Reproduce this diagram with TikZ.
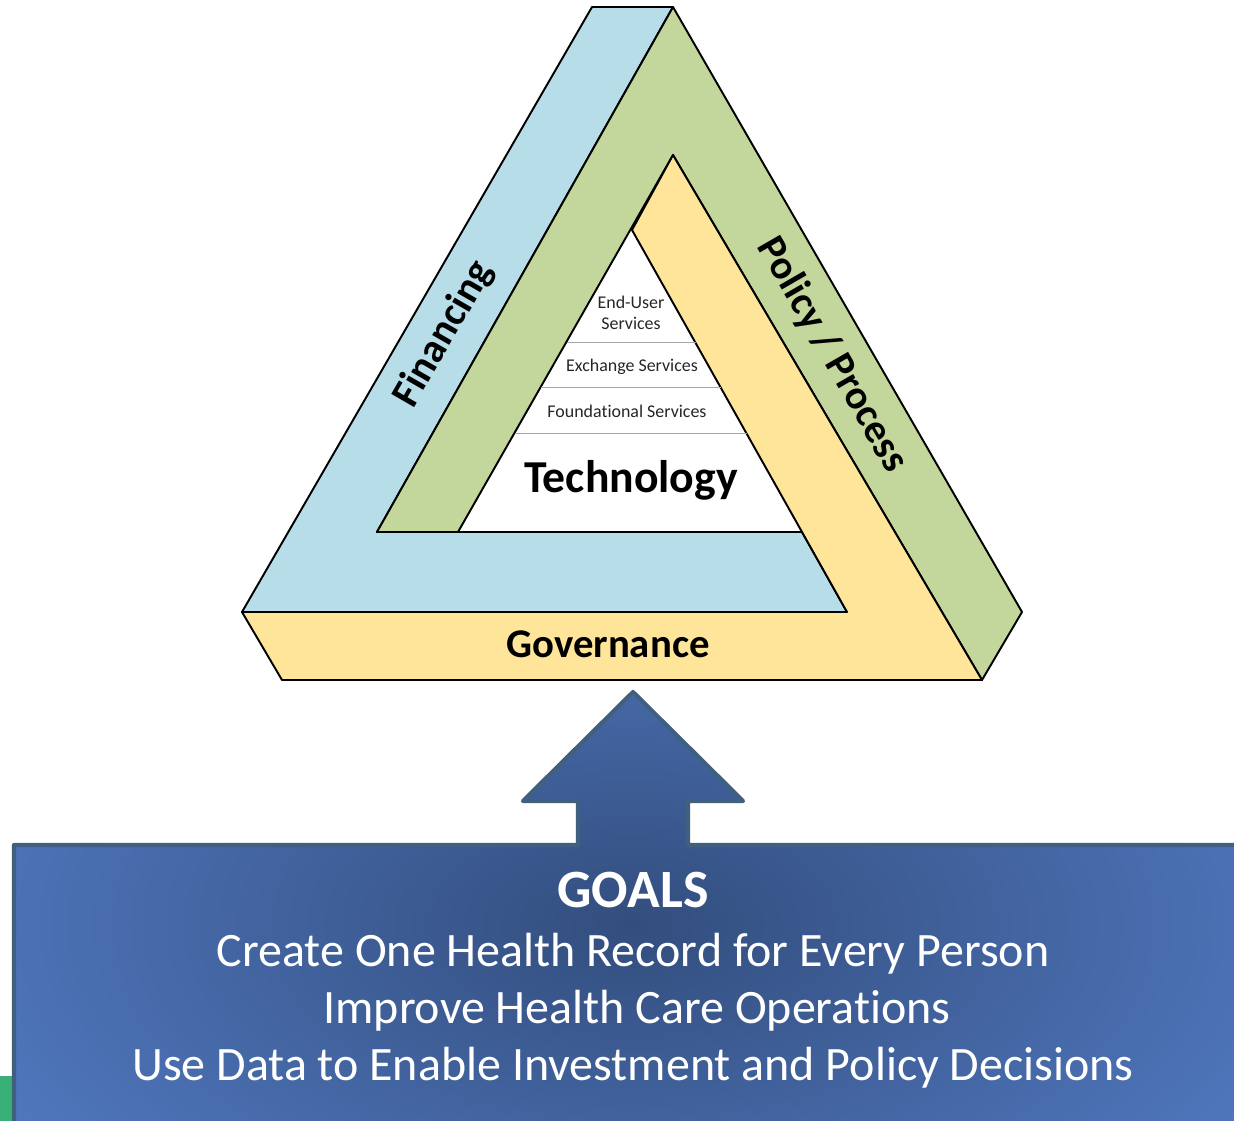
\documentclass[tikz,border=0pt]{standalone}
\usepackage{fontspec}
\setmainfont{Carlito}[Ligatures=NoCommon]
\usetikzlibrary{calc}

\definecolor{finblue}{RGB}{183,221,232}
\definecolor{polgreen}{RGB}{195,214,155}
\definecolor{govyellow}{RGB}{255,229,153}
\definecolor{goaldark}{RGB}{51,78,126}
\definecolor{goallight}{RGB}{86,128,204}
\definecolor{goalline}{RGB}{65,96,128}
\definecolor{stripgreen}{RGB}{56,176,120}
\definecolor{sepgray}{RGB}{166,166,166}

\tikzset{
  bar/.style = {draw=black, line width=1.1pt, line join=round},
  barlabel/.style = {font=\fontsize{23.2}{28}\selectfont\bfseries, inner sep=0pt},
  layer/.style = {font=\fontsize{10.2}{12.5}\selectfont, text=black!85, inner sep=0pt, anchor=base},
  goal/.style = {font=\fontsize{27.3}{33}\selectfont, text=white, inner sep=0pt, anchor=base}
}

\begin{document}
\begin{tikzpicture}[%
        x = 0.02cm, y = -0.02cm
    ]
      \useasboundingbox (0,0) rectangle (1234,1121);
      % corners of the triangle
      \coordinate (btop) at (592,7);
      \coordinate (apex) at (673,7);
      \coordinate (gright) at (1022,612);
      \coordinate (bright) at (982,680);
      \coordinate (bleft) at (282,680);
      \coordinate (left) at (242,612);
      \coordinate (bcorner) at (847,612);
      \coordinate (tright) at (802,532);
      \coordinate (tleft) at (458,532);
      \coordinate (gleft) at (377,532);
      \coordinate (iapex) at (673,155);
      \coordinate (tapex) at (632,230);
      % the three bars
      \draw[bar, fill=finblue] (btop) -- (apex) -- (gleft) -- (tright) -- (bcorner) -- (left) -- cycle;
      \draw[bar, fill=polgreen] (apex) -- (gright) -- (bright) -- (iapex) -- (tleft) -- (gleft) -- cycle;
      \draw[bar, fill=govyellow] (left) -- (bleft) -- (bright) -- (iapex) -- (tapex) -- (tright) -- (bcorner) -- cycle;
      % layers of the technology stack
      \draw[sepgray, line width=0.6pt] ($(tapex)!0.374!(tleft)$) -- ($(tapex)!0.374!(tright)$);
      \draw[sepgray, line width=0.6pt] ($(tapex)!0.523!(tleft)$) -- ($(tapex)!0.523!(tright)$);
      \draw[sepgray, line width=0.6pt] ($(tapex)!0.675!(tleft)$) -- ($(tapex)!0.675!(tright)$);
      \node[barlabel, rotate=60] (fin) at (444,334) {Financing};
      \node[barlabel, rotate=-60] (pol) at (832,355) {Policy / Process};
      \node[barlabel, anchor=base] (gov) at (608,657) {Governance};
      \node[layer, align=center] (enduser) at (631,330) {End-User\\Services};
      \node[layer] (exch) at (632,372) {Exchange Services};
      \node[layer] (found) at (627,418) {Foundational Services};
      \node[inner sep=0pt, anchor=base, font=\fontsize{26}{31}\selectfont\bfseries] (tech) at (631,493) {Technology};
      % goals box with arrow
      \fill[stripgreen] (0,1076) rectangle (12,1121);
      \begin{scope}
        \clip (14,1130) -- (14,845) -- (578,845) -- (578,801) -- (523,801) -- (633,692) -- (743,801)
          -- (688,801) -- (688,845) -- (1245,845) -- (1245,1130) -- cycle;
        \fill[goallight] (0,680) rectangle (1250,1130);
        \shade[inner color=goaldark, outer color=goallight] (632,925) ellipse [x radius=880, y radius=470];
      \end{scope}
      \draw[goalline, line width=2.4pt, line join=round] (14,1130) -- (14,845) -- (578,845) -- (578,801)
        -- (523,801) -- (633,692) -- (743,801) -- (688,801) -- (688,845) -- (1245,845) -- (1245,1130) -- cycle;
      \node[goal, font=\fontsize{30.7}{36}\selectfont\bfseries] (title) at (633,907) {GOALS};
      \node[goal] (goala) at (633,966) {Create One Health Record for Every Person};
      \node[goal] (goalb) at (637,1023) {Improve Health Care Operations};
      \node[goal] (goalc) at (633,1080) {Use Data to Enable Investment and Policy Decisions};
    \end{tikzpicture}
\end{document}
